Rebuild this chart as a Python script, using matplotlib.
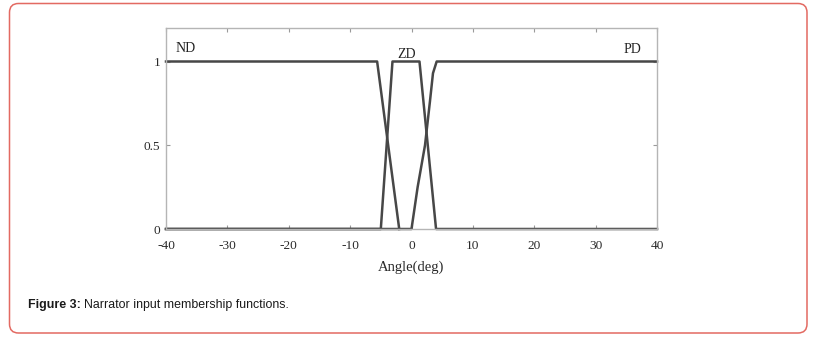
import matplotlib
matplotlib.use("Agg")
import matplotlib.pyplot as plt
from matplotlib.patches import FancyBboxPatch

# Membership functions (angle in degrees, membership degree)
nd_x = [-40, -5.6, -2.0]
nd_y = [1, 1, 0]
zd_x = [-40, -5.0, -3.1, 1.3, 4.0, 40]
zd_y = [0, 0, 1, 1, 0, 0]
pd_x = [-40, 0.0, 1.0, 2.2, 3.0, 3.5, 4.1, 40]
pd_y = [0, 0, 0.25, 0.5, 0.76, 0.93, 1, 1]

mf_labels = ["ND", "ZD", "PD"]
mf_label_x = [-36.8, -0.8, 36.0]
mf_label_y = [1.08, 1.04, 1.07]

x_ticks = [-40, -30, -20, -10, 0, 10, 20, 30, 40]
y_ticks = [0, 0.5, 1]
y_tick_labels = ["0", "0.5", "1"]

W, H = 813, 339
fig = plt.figure(figsize=(W / 100, H / 100), dpi=100)
fig.patch.set_facecolor("white")

# border frame
bg = fig.add_axes([0, 0, 1, 1])
bg.set_xlim(0, W)
bg.set_ylim(H, 0)
bg.axis("off")
bg.add_patch(FancyBboxPatch((9.5, 3.5), 797.5, 329.5,
                            boxstyle="round,pad=0,rounding_size=9",
                            fill=False, edgecolor="#e36a62", linewidth=1.1))
bg.text(28, 305, "Figure 3:", fontsize=8.9, fontweight="bold",
        family="Liberation Sans", color="#1a1a1a", va="center", ha="left")
bg.text(84, 305, "Narrator input membership functions.", fontsize=8.9,
        family="Liberation Sans", color="#1a1a1a", va="center", ha="left")

ax = fig.add_axes([166 / W, (H - 229) / H, (657 - 166) / W, (229 - 28) / H])
ax.set_zorder(2)
ax.patch.set_alpha(0)
lc = "#474747"
for xs, ys in [(nd_x, nd_y), (zd_x, zd_y), (pd_x, pd_y)]:
    ax.plot(xs, ys, color=lc, linewidth=1.8, solid_joinstyle="round", clip_on=False)

for lab, lx, ly in zip(mf_labels, mf_label_x, mf_label_y):
    ax.text(lx, ly, lab, family="Liberation Serif", fontsize=10, color="#222222",
            ha="center", va="center")

ax.set_xlim(-40, 40)
ax.set_ylim(0, 1.2)
ax.set_xticks(x_ticks)
ax.set_xticklabels([str(t) for t in x_ticks])
ax.set_yticks(y_ticks)
ax.set_yticklabels(y_tick_labels)
ax.tick_params(direction="in", length=3, width=0.8, color="#9a9a9a",
               top=True, right=True, labelsize=9.6, labelcolor="#2a2a2a")
ax.tick_params(axis="x", pad=8)
ax.tick_params(axis="y", pad=4)
for lbl in ax.get_xticklabels() + ax.get_yticklabels():
    lbl.set_family("Liberation Serif")
for s in ax.spines.values():
    s.set_color("#b5b5b5")
    s.set_linewidth(1.0)
ax.set_xlabel("Angle(deg)", family="Liberation Serif", fontsize=10.5,
              color="#2a2a2a", labelpad=6)

fig.savefig("out.png", dpi=100, facecolor="white")
